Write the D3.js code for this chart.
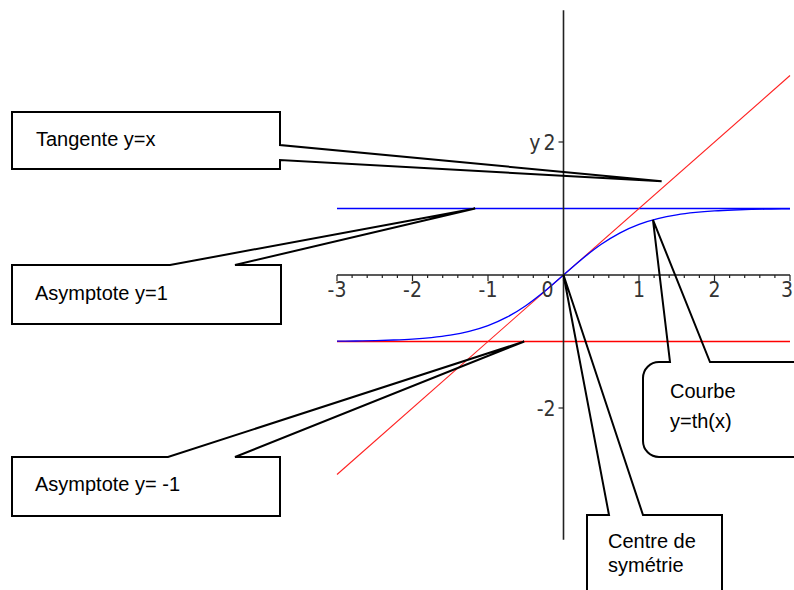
<!DOCTYPE html>
<html>
<head>
<meta charset="utf-8">
<script src="https://cdn.jsdelivr.net/npm/d3@7"></script>
<style>
  body { margin: 0; background: #fff; }
  .tick-label { font-family: "Liberation Sans Narrow", "DejaVu Sans Condensed", sans-serif; font-size: 21px; fill: #333; }
  .callout text { font-family: "Liberation Sans", Arial, sans-serif; font-size: 20px; fill: #000; }
</style>
</head>
<body>
<svg id="chart" width="794" height="590"></svg>
<script>
// data
const xTicks = [-3, -2, -1, 0, 1, 2, 3]
const yTicks = [2, -2]
const thX = [-3, -2.75, -2.5, -2.25, -2, -1.75, -1.5, -1.25, -1, -0.75, -0.5, -0.25, 0,
             0.25, 0.5, 0.75, 1, 1.25, 1.5, 1.75, 2, 2.25, 2.5, 2.75, 3]
const thY = [-0.995, -0.992, -0.987, -0.978, -0.964, -0.941, -0.905, -0.848, -0.762, -0.635, -0.462, -0.245, 0,
             0.245, 0.462, 0.635, 0.762, 0.848, 0.905, 0.941, 0.964, 0.978, 0.987, 0.992, 0.995]
const tangentX = [-3, 3]
const tangentY = [-3, 3]
const asymX = [-3, 3]

// callout labels and what they point at (data coords)
const calloutText = [["Tangente y=x"], ["Asymptote y=1"], ["Asymptote y= -1"], ["Courbe", "y=th(x)"], ["Centre de", "symétrie"]]
const calloutTipX = [1.3, -1.17, -0.52, 1.185, 0]
const calloutTipY = [1.41, 1, -1, 0.83, 0]

const svg = d3.select('#chart')
const x = d3.scaleLinear().domain([-3, 3]).range([337, 790])
const y = d3.scaleLinear().domain([-4, 4]).range([541, 9])

const line = d3.line().x(d => x(d[0])).y(d => y(d[1]))

// curves
svg.append('path')
    .attr('d', line(asymX.map(v => [v, 1])))
    .attr('stroke', '#0000ff').attr('stroke-width', 1.3).attr('fill', 'none')
svg.append('path')
    .attr('d', line(asymX.map(v => [v, -1])))
    .attr('stroke', '#ff0000').attr('stroke-width', 1.3).attr('fill', 'none')
svg.append('path')
    .attr('d', line(tangentX.map((v, i) => [v, tangentY[i]])))
    .attr('stroke', '#ff2020').attr('stroke-width', 1.1).attr('fill', 'none')
svg.append('path')
    .attr('d', line.curve(d3.curveMonotoneX)(thX.map((v, i) => [v, thY[i]])))
    .attr('stroke', '#0000ff').attr('stroke-width', 1.4).attr('fill', 'none')

// x axis
const xAxis = svg.append('g')
xAxis.append('line')
    .attr('x1', x(-3)).attr('x2', x(3)).attr('y1', y(0)).attr('y2', y(0))
    .attr('stroke', '#222').attr('stroke-width', 1.6)
xAxis.selectAll('line.minor')
    .data(d3.range(-30, 31, 2).map(v => v / 10))
    .join('line')
    .attr('class', 'minor')
    .attr('x1', d => x(d)).attr('x2', d => x(d))
    .attr('y1', y(0)).attr('y2', d => y(0) + (Number.isInteger(d) ? 6 : 3))
    .attr('stroke', '#222').attr('stroke-width', 1.2)
xAxis.selectAll('text')
    .data(xTicks)
    .join('text')
    .attr('class', 'tick-label')
    .attr('x', d => d === 0 ? x(0) - 10 : d === 3 ? x(d) + 3 : x(d))
    .attr('y', y(0) + 22)
    .attr('text-anchor', d => d === 0 || d === 3 ? 'end' : 'middle')
    .text(d => d)

// y axis
const yAxis = svg.append('g')
yAxis.append('line')
    .attr('x1', x(0)).attr('x2', x(0)).attr('y1', y(-3.98)).attr('y2', y(3.98))
    .attr('stroke', '#222').attr('stroke-width', 1.6)
yAxis.selectAll('line.tick')
    .data(yTicks)
    .join('line')
    .attr('class', 'tick')
    .attr('x1', x(0) - 5).attr('x2', x(0))
    .attr('y1', d => y(d)).attr('y2', d => y(d))
    .attr('stroke', '#222').attr('stroke-width', 1.2)
yAxis.selectAll('text')
    .data(yTicks)
    .join('text')
    .attr('class', 'tick-label')
    .attr('x', x(0) - 8)
    .attr('y', d => y(d) + 8)
    .attr('text-anchor', 'end')
    .text(d => d)
yAxis.append('text')
    .attr('class', 'tick-label')
    .attr('x', x(0) - 23)
    .attr('y', y(2) + 8)
    .attr('text-anchor', 'end')
    .text('y')

// callouts (box geometry in px, tip from data)
const boxes = [
    { x0: 12, y0: 112, x1: 280, y1: 169, side: 'right', a: 145, b: 160, tx: 36, ty: [146] },
    { x0: 12, y0: 265, x1: 281, y1: 324, side: 'top', a: 170, b: 235, tx: 35, ty: [300] },
    { x0: 12, y0: 457, x1: 280, y1: 516, side: 'top', a: 168, b: 235, tx: 35, ty: [491] },
    { x0: 643, y0: 362, x1: 812, y1: 457, side: 'top', a: 670, b: 710, r: 16, tx: 670, ty: [398, 428] },
    { x0: 587, y0: 515, x1: 722, y1: 605, side: 'top', a: 609, b: 643, tx: 608, ty: [548, 572] }
]

function calloutPath(bx, tip) {
    const p = d3.path()
    const r = bx.r || 0
    if (bx.side === 'right') {
        p.moveTo(bx.x0, bx.y0)
        p.lineTo(bx.x1, bx.y0)
        p.lineTo(bx.x1, bx.a)
        p.lineTo(tip[0], tip[1])
        p.lineTo(bx.x1, bx.b)
        p.lineTo(bx.x1, bx.y1)
        p.lineTo(bx.x0, bx.y1)
        p.closePath()
    } else {
        p.moveTo(bx.x0 + r, bx.y0)
        p.lineTo(bx.a, bx.y0)
        p.lineTo(tip[0], tip[1])
        p.lineTo(bx.b, bx.y0)
        p.lineTo(bx.x1, bx.y0)
        p.lineTo(bx.x1, bx.y1)
        p.lineTo(bx.x0 + r, bx.y1)
        if (r) p.arcTo(bx.x0, bx.y1, bx.x0, bx.y1 - r, r)
        p.lineTo(bx.x0, bx.y0 + r)
        if (r) p.arcTo(bx.x0, bx.y0, bx.x0 + r, bx.y0, r)
        p.closePath()
    }
    return p.toString()
}

const callouts = svg.selectAll('g.callout')
    .data(boxes)
    .join('g')
    .attr('class', 'callout')

callouts.append('path')
    .attr('d', (d, i) => calloutPath(d, [x(calloutTipX[i]), y(calloutTipY[i])]))
    .attr('fill', 'none')
    .attr('stroke', '#000')
    .attr('stroke-width', 2)
    .attr('stroke-linejoin', 'miter')

callouts.each(function (d, i) {
    d3.select(this).selectAll('text')
        .data(calloutText[i])
        .join('text')
        .attr('x', d.tx)
        .attr('y', (t, j) => d.ty[j])
        .text(t => t)
})
</script>
</body>
</html>
